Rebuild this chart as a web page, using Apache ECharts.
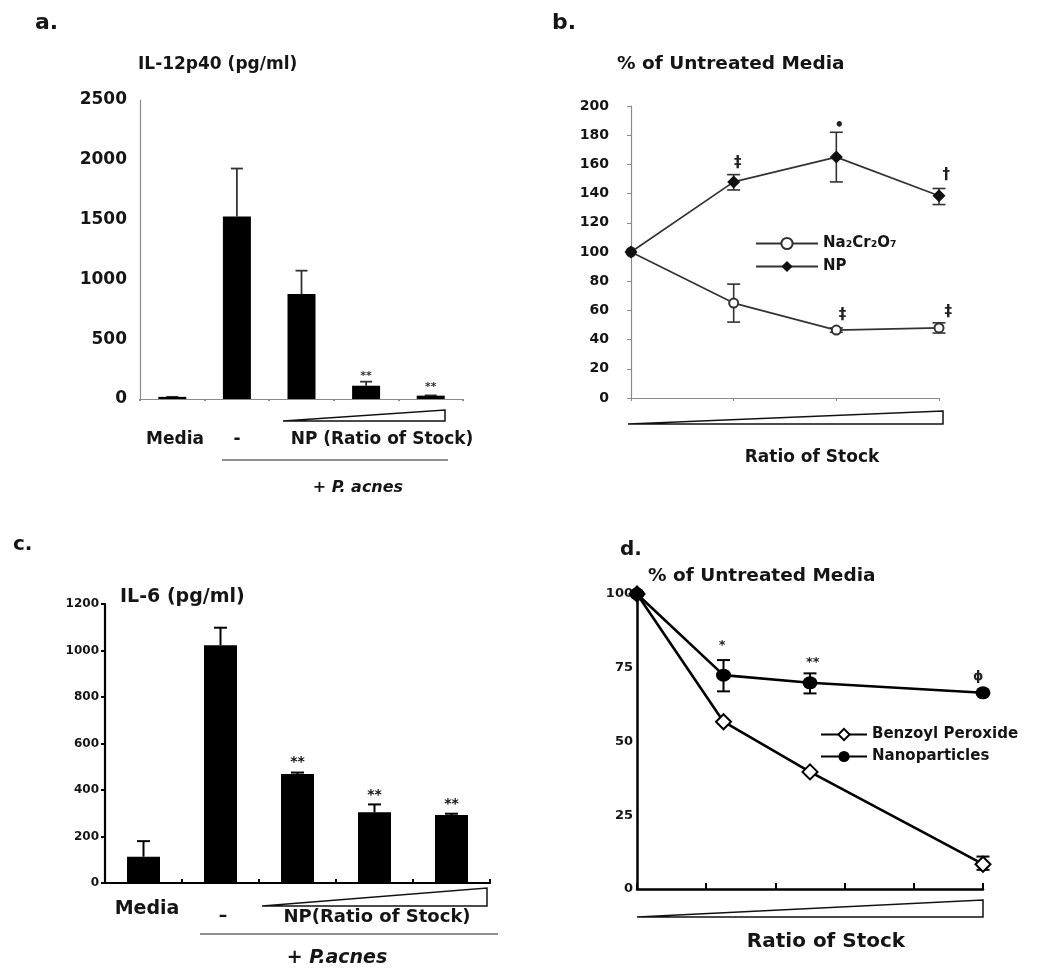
<!DOCTYPE html>
<html><head><meta charset="utf-8">
<script src="https://cdn.jsdelivr.net/npm/echarts@6/dist/echarts.min.js"></script>
<style>html,body{margin:0;padding:0;background:#fff}#c{width:1050px;height:980px}</style>
</head><body><div id="c"></div>
<script>
// ---------- Panel a: IL-12p40 ----------
const aCategories = ['Media', '-', 'NP low', 'NP mid', 'NP high'];
const aValues = [18, 1525, 878, 111, 28];
const aErrHigh = [18, 1927, 1073, 145, 30];
const aAnnot = [[3, 188, '**'], [4, 100, '**']];
// ---------- Panel b: % of untreated (Na2Cr2O7 vs NP) ----------
const bX = [0, 1, 2, 3];
const bNa = [100, 65, 46.5, 48];
const bNaErr = [[1, 52, 78], [2, 45, 48], [3, 44.5, 51.5]];
const bNP = [100, 148, 165, 138.5];
const bNPErr = [[1, 142.5, 153], [2, 148, 182], [3, 132.5, 143.5]];
const bAnnot = [[1.04, 161, '‡'], [2.03, 186, '•'], [3.07, 153, '†'], [2.06, 57, '‡'], [3.09, 59, '‡']];
// ---------- Panel c: IL-6 ----------
const cCategories = ['Media', '--', 'NP low', 'NP mid', 'NP high'];
const cValues = [113, 1023, 469, 304, 292];
const cErrHigh = [180, 1098, 475, 338, 298];
const cAnnot = [[2, 517, '**'], [3, 378, '**'], [4, 340, '**']];
// ---------- Panel d: % of untreated (Benzoyl Peroxide vs Nanoparticles) ----------
const dX = [0, 1.25, 2.5, 5];
const dBP = [100, 56.7, 39.7, 8.4];
const dBPErr = [[5, 6.5, 11]];
const dNano = [100, 72.5, 69.9, 66.5];
const dNanoErr = [[1.25, 67, 77.6], [2.5, 66.3, 73.1]];
const dAnnot = [[1.23, 82.4, '*'], [2.54, 76.6, '**'], [4.93, 71.9, 'ϕ']];

const FF = 'DejaVu Sans';
const pair = (xs, ys) => xs.map((x, i) => [x, ys[i]]);
const plain = v => String(v);

function errSeries(xi, yi, data, capW, color, lw, lowCap) {
  return {
    type: 'custom', xAxisIndex: xi, yAxisIndex: yi, data: data, z: 1, silent: true,
    renderItem: function (params, api) {
      const x = api.value(0), lo = api.value(1), hi = api.value(2);
      const a = api.coord([x, lo]), b = api.coord([x, hi]);
      const h = capW / 2, st = { stroke: color, lineWidth: lw };
      const ch = [
        { type: 'line', shape: { x1: a[0], y1: a[1], x2: b[0], y2: b[1] }, style: st },
        { type: 'line', shape: { x1: b[0] - h, y1: b[1], x2: b[0] + h, y2: b[1] }, style: st }
      ];
      if (lowCap) ch.push({ type: 'line', shape: { x1: a[0] - h, y1: a[1], x2: a[0] + h, y2: a[1] }, style: st });
      return { type: 'group', children: ch };
    }
  };
}
function annotSeries(xi, yi, ann, font, color) {
  return {
    type: 'custom', xAxisIndex: xi, yAxisIndex: yi, z: 6, silent: true,
    data: ann.map(a => [a[0], a[1]]),
    renderItem: function (params, api) {
      const p = api.coord([api.value(0), api.value(1)]);
      return { type: 'text', x: p[0], y: p[1],
        style: { text: ann[params.dataIndex][2], font: font, fill: color, textAlign: 'center', textVerticalAlign: 'middle' } };
    }
  };
}
function txt(x, y, text, size, align, extra) {
  return Object.assign({ type: 'text', x: x, y: y, silent: true,
    style: Object.assign({ text: text, font: 'bold ' + size + 'px "' + FF + '"', fill: '#151515',
      textAlign: align || 'left', textVerticalAlign: 'middle' }, extra || {}) });
}
function wedge(x1, x2, yb, yt) {
  return { type: 'polygon', silent: true, shape: { points: [[x1, yb], [x2, yt], [x2, yb]] },
    style: { fill: '#fff', stroke: '#111', lineWidth: 1.5 } };
}
function hline(x1, x2, y) {
  return { type: 'line', silent: true, shape: { x1: x1, y1: y, x2: x2, y2: y }, style: { stroke: '#222', lineWidth: 1.2 } };
}

const chart = echarts.init(document.getElementById('c'), null, { renderer: 'canvas' });
const grayAxis = { lineStyle: { color: '#8a8a8a', width: 1.2 } };
const blackAxis = { lineStyle: { color: '#000', width: 2.2 } };

const option = {
  animation: false,
  backgroundColor: '#fff',
  grid: [
    { left: 140, top: 100, width: 323, height: 299 },
    { left: 631, top: 106, width: 308, height: 292 },
    { left: 105, top: 604, width: 385, height: 279 },
    { left: 637, top: 594, width: 346, height: 295 }
  ],
  xAxis: [
    { gridIndex: 0, type: 'category', data: aCategories, axisLine: grayAxis,
      axisTick: { show: true, length: 2, lineStyle: { color: '#8a8a8a', width: 2 } }, axisLabel: { show: false }, splitLine: { show: false } },
    { gridIndex: 1, type: 'value', min: 0, max: 3, interval: 1, axisLine: grayAxis,
      axisTick: { show: true, length: 3, lineStyle: { color: '#8a8a8a' } }, axisLabel: { show: false }, splitLine: { show: false } },
    { gridIndex: 2, type: 'category', data: cCategories, axisLine: blackAxis,
      axisTick: { show: true, inside: true, length: 4, lineStyle: { color: '#000', width: 2 } }, axisLabel: { show: false }, splitLine: { show: false } },
    { gridIndex: 3, type: 'value', min: 0, max: 5, interval: 1, axisLine: { lineStyle: { color: '#000', width: 2.5 } },
      axisTick: { show: true, inside: true, length: 6, lineStyle: { color: '#000', width: 2 } }, axisLabel: { show: false }, splitLine: { show: false } }
  ],
  yAxis: [
    { gridIndex: 0, type: 'value', min: 0, max: 2500, interval: 500, axisLine: Object.assign({ show: true }, grayAxis),
      axisTick: { show: false }, splitLine: { show: false },
      axisLabel: { margin: 13, formatter: plain, color: '#151515', fontFamily: FF, fontWeight: 'bold', fontSize: 17 } },
    { gridIndex: 1, type: 'value', min: 0, max: 200, interval: 20, axisLine: Object.assign({ show: true }, grayAxis),
      axisTick: { show: true, length: 4, lineStyle: { color: '#8a8a8a' } }, splitLine: { show: false },
      axisLabel: { margin: 22, formatter: plain, color: '#151515', fontFamily: FF, fontWeight: 'bold', fontSize: 14 } },
    { gridIndex: 2, type: 'value', min: 0, max: 1200, interval: 200, axisLine: Object.assign({ show: true }, blackAxis),
      axisTick: { show: true, length: 4, lineStyle: { color: '#000', width: 2 } }, splitLine: { show: false },
      axisLabel: { margin: 6, formatter: plain, color: '#151515', fontFamily: FF, fontWeight: 'bold', fontSize: 12 } },
    { gridIndex: 3, type: 'value', min: 0, max: 100, interval: 25, axisLine: { show: true, lineStyle: { color: '#000', width: 2.5 } },
      axisTick: { show: false }, splitLine: { show: false },
      axisLabel: { margin: 4, formatter: plain, color: '#151515', fontFamily: FF, fontWeight: 'bold', fontSize: 13 } }
  ],
  legend: [
    { data: ['Na₂Cr₂O₇', 'NP'], orient: 'vertical', left: 750, top: 231, itemWidth: 62, itemHeight: 14, itemGap: 8,
      textStyle: { fontFamily: FF, fontWeight: 'bold', fontSize: 15, color: '#151515' } },
    { data: ['Benzoyl Peroxide', 'Nanoparticles'], orient: 'vertical', left: 815, top: 722, itemWidth: 46, itemHeight: 14, itemGap: 7,
      textStyle: { fontFamily: FF, fontWeight: 'bold', fontSize: 15, color: '#151515' } }
  ],
  series: [
    // a
    { type: 'bar', xAxisIndex: 0, yAxisIndex: 0, data: aValues, barWidth: 28, itemStyle: { color: '#000' }, z: 2 },
    errSeries(0, 0, aValues.map((v, i) => [i, v, aErrHigh[i]]), 12, '#333', 1.8, false),
    annotSeries(0, 0, aAnnot, 'bold 11px "' + FF + '"', '#333'),
    // b
    errSeries(1, 1, bNaErr, 13, '#333', 1.6, true),
    errSeries(1, 1, bNPErr, 13, '#333', 1.6, true),
    { name: 'Na₂Cr₂O₇', type: 'line', xAxisIndex: 1, yAxisIndex: 1, data: pair(bX, bNa), z: 3,
      symbol: 'emptyCircle', symbolSize: 9, lineStyle: { color: '#333', width: 1.7 },
      itemStyle: { color: '#333', borderWidth: 1.6 } },
    { name: 'NP', type: 'line', xAxisIndex: 1, yAxisIndex: 1, data: pair(bX, bNP), z: 3,
      symbol: 'diamond', symbolSize: 13, lineStyle: { color: '#333', width: 1.7 }, itemStyle: { color: '#111' } },
    annotSeries(1, 1, bAnnot, 'bold 15px "' + FF + '"', '#222'),
    // c
    { type: 'bar', xAxisIndex: 2, yAxisIndex: 2, data: cValues, barWidth: 33, itemStyle: { color: '#000' }, z: 2 },
    errSeries(2, 2, cValues.map((v, i) => [i, v, cErrHigh[i]]), 13, '#000', 2, false),
    annotSeries(2, 2, cAnnot, 'bold 14px "' + FF + '"', '#111'),
    // d
    errSeries(3, 3, dBPErr, 13, '#000', 2, true),
    errSeries(3, 3, dNanoErr, 13, '#000', 2, true),
    { name: 'Benzoyl Peroxide', type: 'line', xAxisIndex: 3, yAxisIndex: 3, data: pair(dX, dBP), z: 3,
      symbol: 'emptyDiamond', symbolSize: 15, lineStyle: { color: '#000', width: 2.6 },
      itemStyle: { color: '#000', borderWidth: 2 } },
    { name: 'Nanoparticles', type: 'line', xAxisIndex: 3, yAxisIndex: 3, data: pair(dX, dNano), z: 3,
      symbol: 'circle', symbolSize: [15, 13], lineStyle: { color: '#000', width: 2.6 }, itemStyle: { color: '#000' } },
    annotSeries(3, 3, dAnnot, 'bold 13px "' + FF + '"', '#222')
  ],
  graphic: [
    // panel a
    txt(35, 23, 'a.', 22),
    txt(138, 65, 'IL-12p40 (pg/ml)', 17),
    wedge(283, 445, 421, 410),
    txt(175, 440, 'Media', 17, 'center'),
    txt(237, 440, '-', 17, 'center'),
    txt(382, 440, 'NP (Ratio of Stock)', 17, 'center'),
    hline(222, 448, 460),
    txt(358, 488, '{n|+ }{i|P. acnes}', 16, 'center', { rich: {
      n: { font: 'bold 16px "' + FF + '"', fill: '#151515' },
      i: { font: 'italic bold 16px "' + FF + '"', fill: '#151515' } } }),
    // panel b
    txt(552, 23, 'b.', 22),
    txt(617, 64, '% of Untreated Media', 18.5),
    wedge(628, 943, 424, 411),
    txt(812, 458, 'Ratio of Stock', 17, 'center'),
    // panel c
    txt(13, 545, 'c.', 20),
    txt(120, 597, 'IL-6 (pg/ml)', 19),
    wedge(262, 487, 906, 888),
    txt(147, 909, 'Media', 19, 'center'),
    txt(223, 917, '–', 17, 'center'),
    txt(377, 917, 'NP(Ratio of Stock)', 18, 'center'),
    hline(200, 498, 934),
    txt(337, 958, '{n|+ }{i|P.acnes}', 19, 'center', { rich: {
      n: { font: 'bold 19px "' + FF + '"', fill: '#151515' },
      i: { font: 'italic bold 19px "' + FF + '"', fill: '#151515' } } }),
    // panel d
    txt(620, 550, 'd.', 20),
    txt(648, 576, '% of Untreated Media', 18.5),
    wedge(637, 983, 917, 900),
    txt(826, 942, 'Ratio of Stock', 20, 'center')
  ]
};
chart.setOption(option);
</script>
</body></html>
